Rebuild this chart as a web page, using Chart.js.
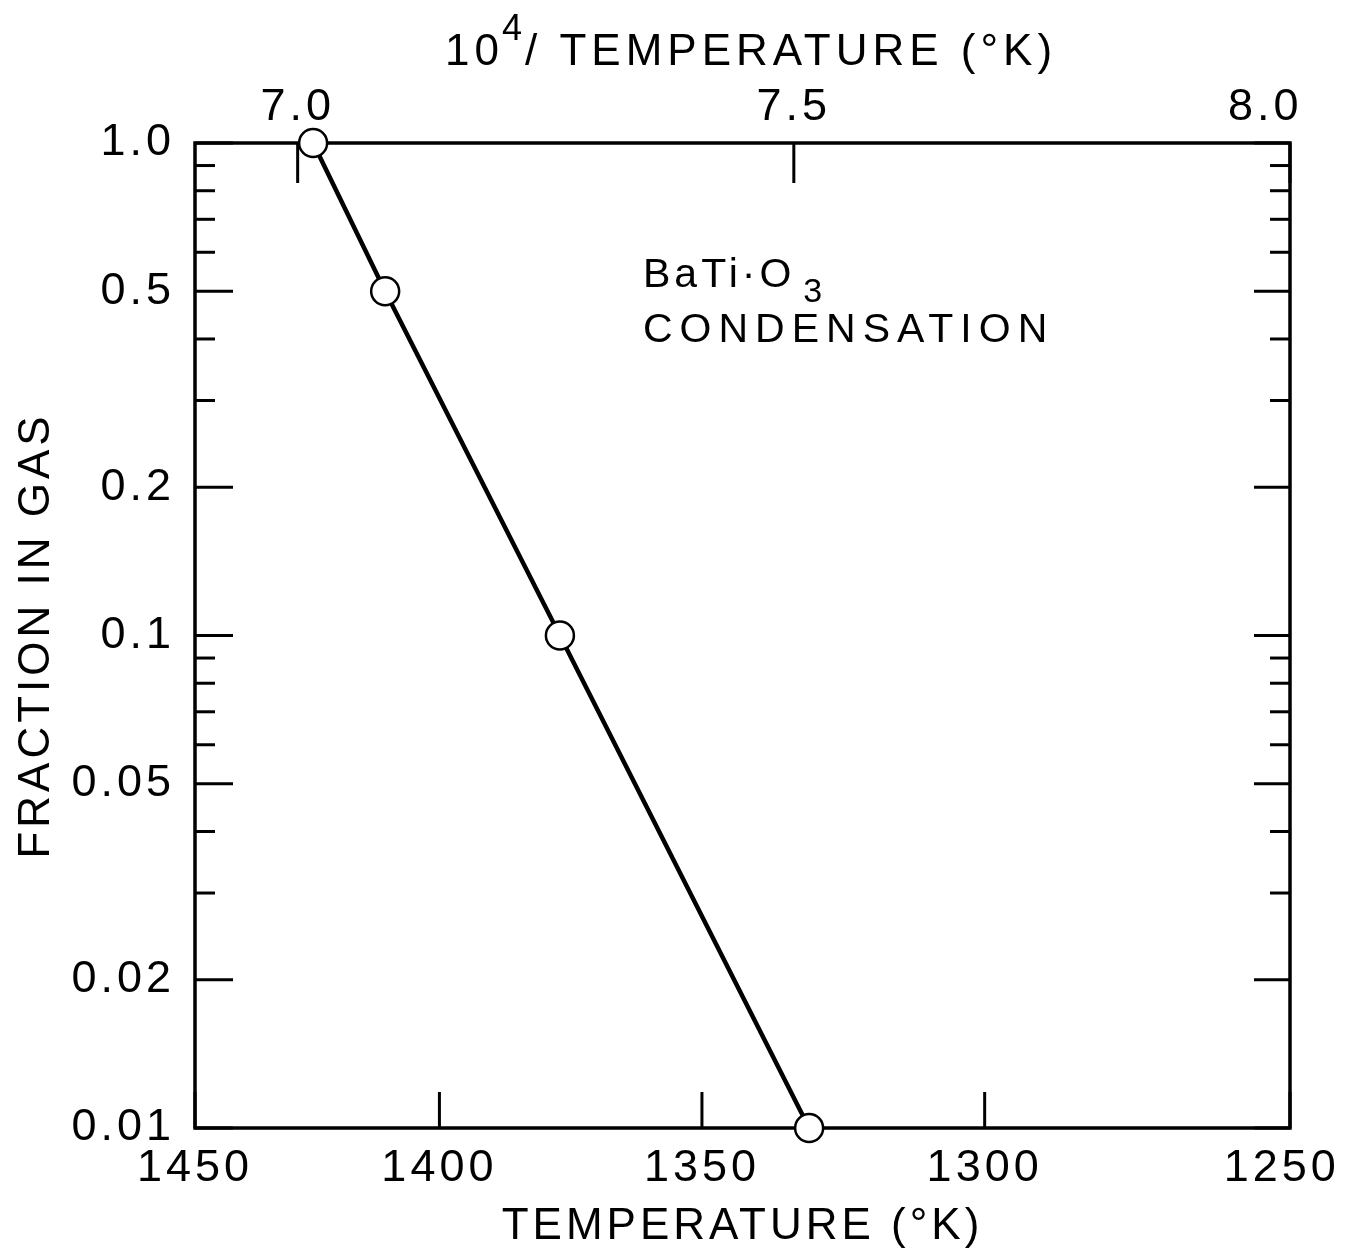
<!DOCTYPE html>
<html>
<head>
<meta charset="utf-8">
<script src="https://cdn.jsdelivr.net/npm/chart.js@4.4.1/dist/chart.umd.min.js"></script>
<style>
  html, body { margin: 0; padding: 0; background: #fff; }
  #chart { display: block; }
</style>
</head>
<body>
<canvas id="chart" width="1352" height="1257"></canvas>
<script>
// measured points (temperature in K, fraction remaining in gas)
const temperatures = [1425.4, 1410.8, 1376.6, 1330.6];
const fractionInGas = [1.0, 0.5, 0.1, 0.01];

// axis ticks
const tempTicks = [1450, 1400, 1350, 1300, 1250];
const tempTickLabels = ['1450', '1400', '1350', '1300', '1250 '];
const inverseTicks = [7.0, 7.5, 8.0];
const inverseTickLabels = ['7.0', '7.5', '8.0   '];   // last one sits a bit left of the corner
const fractionTicks = [1.0, 0.5, 0.2, 0.1, 0.05, 0.02, 0.01];
const fractionTickLabels = ['1.0', '0.5', '0.2', '0.1', '0.05', '0.02', '0.01'];
const fractionMinorTicks = [0.9, 0.8, 0.7, 0.6, 0.4, 0.3, 0.09, 0.08, 0.07, 0.06, 0.04, 0.03];

const FONT = "'Liberation Sans', Arial, sans-serif";
const tickFont = { family: FONT, size: 45 };
const titleFont = { family: FONT, size: 44 };

// x is plotted as 10^4 / T so both top and bottom axes share one linear scale
const points = temperatures.map((t, i) => ({ x: 1e4 / t, y: fractionInGas[i] }));

// labels at the ends of the x axes may hang outside the frame
const noEdgePadding = s => { s.paddingLeft = 0; s.paddingRight = 0; };

const frameTicks = {
  id: 'frameTicks',
  beforeLayout(chart) { chart.ctx.letterSpacing = '4px'; },
  beforeDraw(chart) { chart.ctx.letterSpacing = '4px'; },
  beforeDatasetsDraw(chart) {
    const { ctx, chartArea: a, scales } = chart;
    const tick = (x1, y1, x2, y2) => {
      ctx.beginPath(); ctx.moveTo(x1, y1); ctx.lineTo(x2, y2); ctx.stroke();
    };
    ctx.save();
    ctx.strokeStyle = '#000';
    ctx.lineWidth = 3.5;
    ctx.strokeRect(a.left, a.top, a.right - a.left, a.bottom - a.top);
    ctx.lineWidth = 3;
    // ticks point inward on every side
    fractionTicks.forEach(v => {
      const y = scales.y.getPixelForValue(v);
      tick(a.left, y, a.left + 38, y);
      tick(a.right, y, a.right - 36, y);
    });
    fractionMinorTicks.forEach(v => {
      const y = scales.y.getPixelForValue(v);
      tick(a.left, y, a.left + 20, y);
      tick(a.right, y, a.right - 20, y);
    });
    tempTicks.forEach(t => {
      const x = scales.x.getPixelForValue(1e4 / t);
      tick(x, a.bottom, x, a.bottom - 36);
    });
    inverseTicks.forEach(v => {
      const x = scales.x2.getPixelForValue(v);
      tick(x, a.top, x, a.top + 40);
    });
    ctx.restore();
  },
  afterDatasetsDraw(chart) {
    const { ctx } = chart;
    ctx.save();
    ctx.fillStyle = '#000';
    ctx.textBaseline = 'alphabetic';
    ctx.textAlign = 'left';

    // top axis title with a raised exponent
    ctx.letterSpacing = '5px';
    ctx.font = '44px ' + FONT;
    ctx.fillText('10', 445, 65);
    let x = 445 + ctx.measureText('10').width - 2;
    ctx.font = '36px ' + FONT;
    ctx.fillText('4', x, 40);
    x += ctx.measureText('4').width - 2;
    ctx.font = '44px ' + FONT;
    ctx.fillText('/ TEMPERATURE (°K)', x, 65);

    // annotation
    ctx.letterSpacing = '4px';
    ctx.font = '41px ' + FONT;
    ctx.fillText('BaTi\u00b7O', 643, 287);
    const w = ctx.measureText('BaTi\u00b7O').width;
    ctx.font = '34px ' + FONT;
    ctx.fillText('3', 643 + w + 8, 302);
    ctx.letterSpacing = '7px';
    ctx.font = '41px ' + FONT;
    ctx.fillText('CONDENSATION', 643, 342);
    ctx.restore();
  }
};

new Chart(document.getElementById('chart'), {
  type: 'line',
  data: {
    datasets: [{
      data: points,
      borderColor: '#000',
      borderWidth: 4.5,
      pointRadius: 14,
      pointBorderWidth: 2.5,
      pointBackgroundColor: '#fff',
      pointBorderColor: '#000',
      tension: 0,
      clip: false
    }]
  },
  options: {
    responsive: false,
    animation: false,
    events: [],
    layout: { padding: { left: 0, right: 62, top: 0, bottom: 0 } },
    plugins: { legend: { display: false }, tooltip: { enabled: false } },
    scales: {
      x: {
        type: 'linear',
        position: 'bottom',
        min: 1e4 / 1450,
        max: 1e4 / 1250,
        grid: { display: false, drawTicks: false },
        border: { display: false },
        afterBuildTicks: s => { s.ticks = tempTicks.map(t => ({ value: 1e4 / t })); },
        ticks: {
          callback: v => tempTickLabels[tempTicks.indexOf(Math.round(1e4 / v))],
          font: tickFont, color: '#000', padding: 14,
          maxRotation: 0, autoSkip: false
        },
        title: {
          display: true, text: 'TEMPERATURE (°K)',
          font: titleFont, color: '#000', padding: { top: 0, bottom: 4 }
        },
        afterFit: s => { noEdgePadding(s); s.height = 129; }
      },
      x2: {
        type: 'linear',
        position: 'top',
        min: 1e4 / 1450,
        max: 8.0,
        grid: { display: false, drawTicks: false },
        border: { display: false },
        afterBuildTicks: s => { s.ticks = inverseTicks.map(v => ({ value: v })); },
        ticks: {
          callback: v => inverseTickLabels[inverseTicks.indexOf(v)],
          font: tickFont, color: '#000', padding: 8,
          maxRotation: 0, autoSkip: false
        },
        title: { display: false },
        afterFit: s => { noEdgePadding(s); s.height = 143; }
      },
      y: {
        type: 'logarithmic',
        position: 'left',
        min: 0.01,
        max: 1,
        grid: { display: false, drawTicks: false },
        border: { display: false },
        afterBuildTicks: s => { s.ticks = fractionTicks.map(v => ({ value: v })); },
        ticks: {
          callback: v => fractionTickLabels[fractionTicks.indexOf(v)],
          font: tickFont, color: '#000', padding: 20, autoSkip: false
        },
        title: {
          display: true, text: 'FRACTION IN GAS',
          font: titleFont, color: '#000', padding: { top: 10, bottom: 0 }
        },
        afterFit: s => { s.width = 195; }
      }
    }
  },
  plugins: [frameTicks]
});
</script>
</body>
</html>
